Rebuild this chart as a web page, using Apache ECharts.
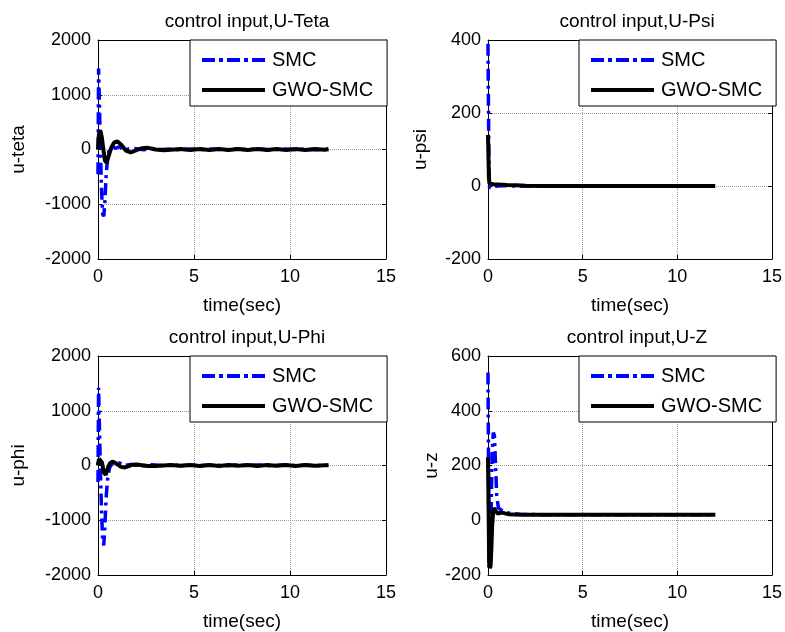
<!DOCTYPE html>
<html>
<head>
<meta charset="utf-8">
<script src="https://cdn.jsdelivr.net/npm/echarts@6/dist/echarts.min.js"></script>
<style>
html,body{margin:0;padding:0;background:#fff;}
#c{width:785px;height:632px;}
</style>
</head>
<body>
<div id="c"></div>
<script>
// ---- data ----
const titles = ['control input,U-Teta', 'control input,U-Psi', 'control input,U-Phi', 'control input,U-Z'];
const yNames = ['u-teta', 'u-psi', 'u-phi', 'u-z'];
const xTicks = [0, 5, 10, 15];
const yRanges = [[-2000, 2000, 1000], [-200, 400, 200], [-2000, 2000, 1000], [-200, 600, 200]];
const seriesNames = ['SMC', 'GWO-SMC'];

const tetaSmcT = [0, 0.03, 0.07, 0.12, 0.18, 0.24, 0.3, 0.36, 0.42, 0.5, 0.6, 0.75, 0.9, 1.1, 1.4, 1.7, 2.0, 2.4, 2.8, 3.3, 3.8, 4.3, 4.8, 5.4, 6.0, 6.6, 7.2, 7.8, 8.4, 9.0, 9.6, 10.2, 10.8, 11.4, 12];
const tetaSmcV = [-450, 1480, 900, 100, -700, -1180, -1220, -950, -500, -150, 30, 60, 20, 50, -10, 20, 15, -5, 20, 0, 10, -5, 10, 0, 10, -5, 10, 0, 10, -5, 10, 0, 5, -5, 5];
const tetaGwoT = [0, 0.05, 0.12, 0.2, 0.28, 0.36, 0.45, 0.55, 0.7, 0.85, 1.0, 1.2, 1.45, 1.7, 2.0, 2.3, 2.6, 3.0, 3.4, 3.8, 4.3, 4.8, 5.3, 5.8, 6.3, 6.8, 7.3, 7.8, 8.3, 8.8, 9.3, 9.8, 10.3, 10.8, 11.3, 11.8, 12];
const tetaGwoV = [0, 280, 350, 220, 0, -200, -240, -120, 40, 130, 150, 90, -20, -55, -10, 25, 30, 0, -15, -5, 10, -10, 10, -10, 10, -10, 10, -10, 10, -10, 10, -10, 10, -10, 10, -5, 5];

const psiSmcT = [0, 0.02, 0.05, 0.08, 0.12, 0.2, 0.3, 0.5, 0.8, 1.2, 2, 4, 6, 8, 10, 12];
const psiSmcV = [390, 250, 60, -5, -8, -3, 2, 0, 1, 0, 0, 0, 0, 0, 0, 0];
const psiGwoT = [0, 0.02, 0.05, 0.08, 0.15, 0.3, 0.6, 1.0, 1.5, 2.0, 3, 5, 8, 12];
const psiGwoV = [140, 90, 20, 6, 5, 5, 4, 3, 2, 1, 0, 0, 0, 0];

const phiSmcT = [0, 0.03, 0.07, 0.12, 0.18, 0.24, 0.3, 0.36, 0.42, 0.5, 0.6, 0.75, 0.9, 1.1, 1.4, 1.7, 2.0, 2.4, 2.8, 3.3, 3.8, 4.3, 4.8, 5.4, 6.0, 6.6, 7.2, 7.8, 8.4, 9.0, 9.6, 10.2, 10.8, 11.4, 12];
const phiSmcV = [-300, 1420, 800, 0, -800, -1350, -1460, -1100, -600, -250, -40, 40, 20, 50, 0, 20, 10, -5, 15, 0, 10, -5, 10, 0, 10, -5, 10, 0, 10, -5, 10, 0, 5, -5, 5];
const phiGwoT = [0, 0.05, 0.12, 0.2, 0.3, 0.4, 0.5, 0.62, 0.75, 0.9, 1.05, 1.2, 1.4, 1.6, 1.8, 2.0, 2.3, 2.6, 3.0, 3.4, 3.8, 4.3, 4.8, 5.3, 5.8, 6.3, 6.8, 7.3, 7.8, 8.3, 8.8, 9.3, 9.8, 10.3, 10.8, 11.3, 11.8, 12];
const phiGwoV = [0, 120, 150, 60, -120, -170, -60, 40, 70, 50, 10, -25, -35, -10, 15, 20, 5, -10, -10, 0, 10, -5, 10, -10, 10, -10, 10, -5, 10, -10, 10, -5, 10, -10, 10, -5, 5, 5];

const zSmcT = [0, 0.02, 0.05, 0.08, 0.12, 0.17, 0.22, 0.28, 0.34, 0.4, 0.46, 0.55, 0.65, 0.8, 1.0, 1.3, 1.7, 2.2, 3, 4, 5, 6, 7, 8, 9, 10, 11, 12];
const zSmcV = [540, 300, -175, -100, 0, 50, 250, 320, 310, 200, 90, 45, 38, 32, 28, 24, 22, 21, 20, 20, 20, 20, 20, 20, 20, 20, 20, 20];
const zGwoT = [0, 0.03, 0.06, 0.1, 0.14, 0.18, 0.22, 0.27, 0.33, 0.4, 0.5, 0.6, 0.75, 0.9, 1.1, 1.4, 1.8, 2.3, 3, 4, 5, 6, 7, 8, 9, 10, 11, 12];
const zGwoV = [230, 50, -150, -175, -165, -100, -20, 30, 45, 35, 25, 32, 28, 25, 22, 21, 20, 20, 20, 20, 20, 20, 20, 20, 20, 20, 20, 20];

const smcData = [[tetaSmcT, tetaSmcV], [psiSmcT, psiSmcV], [phiSmcT, phiSmcV], [zSmcT, zSmcV]];
const gwoData = [[tetaGwoT, tetaGwoV], [psiGwoT, psiGwoV], [phiGwoT, phiGwoV], [zGwoT, zGwoV]];

// ---- layout ----
const FONT = '"Liberation Sans", Arial, sans-serif';
const grids = [
  {left: 98, top: 40, width: 288, height: 219},
  {left: 488, top: 40, width: 288, height: 219},
  {left: 98, top: 356, width: 288, height: 219},
  {left: 488, top: 356, width: 288, height: 219}
];
const yNameGaps = [70, 58, 70, 42];
const legendPos = [[190, 40], [579, 40], [190, 356], [579, 356]];
// legend icons: dash-dot blue and solid black bars
const DASHDOT_ICON = 'path://M0,0h13v4h-13z M17,0h4v4h-4z M25,0h13v4h-13z M42,0h4v4h-4z M50,0h13v4h-13z';
const SOLID_ICON = 'path://M0,0h63v4h-63z';

function zip(t, v) { return t.map((x, i) => [x, v[i]]); }

const option = {
  animation: false,
  backgroundColor: '#fff',
  title: grids.map((g, i) => ({
    text: titles[i], left: g.left + g.width / 2, top: g.top - 33, textAlign: 'center',
    textStyle: {fontFamily: FONT, fontSize: 19, fontWeight: 'normal', color: '#000'}
  })),
  grid: grids.map(g => Object.assign({containLabel: false}, g)),
  xAxis: [],
  yAxis: [],
  legend: legendPos.map(p => ({
    data: [{name: seriesNames[0], icon: DASHDOT_ICON, itemStyle: {color: '#0000ff'}},
           {name: seriesNames[1], icon: SOLID_ICON, itemStyle: {color: '#000'}}],
    orient: 'vertical', left: p[0], top: p[1],
    itemWidth: 63, itemHeight: 4, itemGap: 10,
    padding: [10, 14, 6, 12],
    borderColor: '#000', borderWidth: 1, backgroundColor: '#fff',
    textStyle: {fontFamily: FONT, fontSize: 20, color: '#000', padding: [0, 0, 0, 2]},
    selectedMode: false, z: 10
  })),
  series: []
};

grids.forEach((g, i) => {
  const r = yRanges[i];
  const axLine = {show: true, onZero: false, lineStyle: {color: '#000', width: 1}};
  option.xAxis.push({
    gridIndex: i, type: 'value', min: xTicks[0], max: xTicks[xTicks.length - 1], interval: 5, position: 'bottom',
    name: 'time(sec)', nameLocation: 'middle', nameGap: 37,
    nameTextStyle: {fontFamily: FONT, fontSize: 19, color: '#000'},
    axisLine: axLine, axisTick: {inside: true, length: 4, lineStyle: {color: '#000'}},
    axisLabel: {fontFamily: FONT, fontSize: 18, color: '#000', margin: 9, formatter: v => String(v)},
    splitLine: {show: true, lineStyle: {color: '#999', type: 'dotted', width: 1}}
  });
  option.xAxis.push({
    gridIndex: i, type: 'value', min: xTicks[0], max: xTicks[xTicks.length - 1], interval: 5, position: 'top',
    axisLine: axLine, axisTick: {inside: true, length: 4, lineStyle: {color: '#000'}},
    axisLabel: {show: false}, splitLine: {show: false}
  });
  option.yAxis.push({
    gridIndex: i, type: 'value', min: r[0], max: r[1], interval: r[2], position: 'left',
    name: yNames[i], nameLocation: 'middle', nameGap: yNameGaps[i], nameRotate: 90,
    nameTextStyle: {fontFamily: FONT, fontSize: 19, color: '#000'},
    axisLine: axLine, axisTick: {inside: true, length: 4, lineStyle: {color: '#000'}},
    axisLabel: {fontFamily: FONT, fontSize: 18, color: '#000', margin: 7, formatter: v => String(v)},
    splitLine: {show: true, lineStyle: {color: '#999', type: 'dotted', width: 1}}
  });
  option.yAxis.push({
    gridIndex: i, type: 'value', min: r[0], max: r[1], interval: r[2], position: 'right',
    axisLine: axLine, axisTick: {inside: true, length: 4, lineStyle: {color: '#000'}},
    axisLabel: {show: false}, splitLine: {show: false}
  });
  option.series.push({
    name: seriesNames[0], type: 'line', xAxisIndex: 2 * i, yAxisIndex: 2 * i,
    data: zip(smcData[i][0], smcData[i][1]), showSymbol: false, symbol: 'none',
    color: '#0000ff',
    lineStyle: {color: '#0000ff', width: 3.5, type: [12, 5, 3, 5]}, z: 2
  });
  option.series.push({
    name: seriesNames[1], type: 'line', xAxisIndex: 2 * i, yAxisIndex: 2 * i,
    data: zip(gwoData[i][0], gwoData[i][1]), showSymbol: false, symbol: 'none',
    color: '#000',
    lineStyle: {color: '#000', width: 4}, z: 3
  });
});

const chart = echarts.init(document.getElementById('c'), null, {renderer: 'canvas'});
chart.setOption(option);
</script>
</body>
</html>
